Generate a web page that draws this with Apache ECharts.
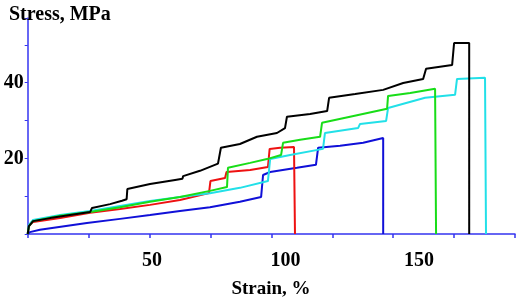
<!DOCTYPE html>
<html><head><meta charset="utf-8">
<script src="https://cdn.jsdelivr.net/npm/echarts@6/dist/echarts.min.js"></script>
<style>html,body{margin:0;padding:0;background:#fff}#c{width:525px;height:300px}</style>
</head><body><div id="c"></div>
<script>
// Strain (%) , Stress (MPa) pairs
const black = [[0,0],[0.5,2.1],[2.2,3.4],[9.2,4.2],[17.4,5.0],[25.6,5.8],[26.4,6.9],[33.8,7.9],[38.7,8.8],[40.6,9.2],[40.9,11.9],[50.2,13.2],[60.5,14.3],[63.5,14.6],[63.8,15.3],[70.7,16.7],[78.1,18.6],[78.5,19.0],[79.3,22.8],[87.1,23.8],[94.1,25.7],[102.3,26.7],[105.6,28.0],[106.0,28.2],[106.4,31.0],[115.9,31.7],[122.9,32.5],[123.3,32.6],[123.7,36.0],[134.4,37.0],[145.9,38.1],[154.1,39.9],[162.3,41.0],[162.8,41.3],[163.5,43.7],[174.2,44.7],[174.5,44.8],[175.0,50.5],[181.2,50.5],[181.2,0]];
const red = [[0,0],[0.5,2.1],[2.2,3.2],[13.3,4.2],[25.6,5.6],[37.9,6.6],[50.2,7.7],[62.5,9.0],[74.4,10.8],[75.0,14.0],[81.0,14.8],[81.6,16.4],[91.3,16.9],[98.6,17.7],[99.3,22.5],[103.6,22.8],[109.3,23.0],[109.7,0]];
const green = [[0,0],[0.5,2.1],[2.2,3.4],[13.3,4.8],[25.6,5.8],[37.9,7.1],[50.2,8.5],[62.5,9.8],[74.8,11.4],[81.8,12.4],[82.2,17.5],[91.3,18.8],[98.2,19.8],[104.0,20.9],[104.8,24.1],[111.8,24.9],[120.0,25.7],[120.8,29.4],[132.3,31.0],[147.5,33.1],[147.9,36.5],[157.0,37.3],[167.2,38.4],[167.6,0]];
const cyan = [[0,0],[0.5,2.4],[2.2,3.7],[13.3,5.0],[25.6,6.1],[37.9,7.4],[50.2,8.7],[62.5,9.8],[74.8,10.8],[87.1,12.2],[98.6,14.0],[99.1,14.3],[99.5,19.8],[107.7,20.9],[121.2,22.5],[122.0,26.7],[135.6,28.0],[136.4,29.1],[147.1,29.9],[147.9,33.3],[163.1,36.0],[175.4,36.8],[176.2,41.0],[187.7,41.3],[188.1,0]];
const blue = [[0,0],[0.9,0.5],[5.0,1.1],[24.3,2.9],[37.9,4.0],[50.2,5.0],[62.5,6.1],[74.8,7.1],[87.1,8.5],[95.8,9.8],[96.6,15.6],[99.5,16.4],[110.5,17.5],[118.3,18.3],[119.2,22.8],[128.2,23.3],[137.7,24.1],[145.9,25.4],[145.9,0]];
const xTickLabels = [50, 100, 150];
const yTickLabels = [20, 40];
const xTitle = 'Strain, %';
const yTitle = 'Stress, MPa';

const axisBlue = '#3535f0';
const font = {fontFamily: 'Liberation Serif', fontWeight: 'bold', color: '#000'};
const chart = echarts.init(document.getElementById('c'), null, {renderer: 'canvas'});
function line(data, color) {
  return {type: 'line', data, xAxisIndex: 0, yAxisIndex: 0, showSymbol: false, symbol: 'none',
    lineStyle: {color, width: 2}, animation: false, silent: true};
}
chart.setOption({
  animation: false,
  title: [
    {text: yTitle, left: 4, top: 0, textStyle: Object.assign({fontSize: 20}, font)},
    {text: xTitle, left: 266, top: 275, textAlign: 'center', textStyle: Object.assign({fontSize: 19}, font)}
  ],
  grid: {left: 27.7, right: 10, top: 18, bottom: 66, containLabel: false},
  xAxis: [
    {type: 'value', min: 0, max: 200, interval: 25, position: 'bottom',
      axisLine: {show: true, lineStyle: {color: axisBlue, width: 1.5}},
      axisTick: {show: true, inside: false, length: 4, lineStyle: {color: axisBlue, width: 1.5}},
      axisLabel: {show: false}, splitLine: {show: false}},
    {type: 'value', min: 3.45, max: 186, position: 'bottom',
      axisLine: {show: false}, axisTick: {show: false}, splitLine: {show: false},
      axisLabel: Object.assign({show: true, customValues: xTickLabels, margin: 17, fontSize: 20}, font)}
  ],
  yAxis: {type: 'value', min: 0, max: 57.1, interval: 10,
    axisLine: {show: true, lineStyle: {color: axisBlue, width: 1.5}},
    axisTick: {show: true, length: 3, lineStyle: {color: axisBlue, width: 1}},
    splitLine: {show: false},
    axisLabel: Object.assign({margin: 4, fontSize: 20,
      formatter: v => yTickLabels.includes(v) ? String(v) : ''}, font)},
  series: [
    line(blue, '#1010d8'),
    line(red, '#ee1111'),
    line(cyan, '#22e0e8'),
    line(green, '#18dd18'),
    line(black, '#000000')
  ]
});
</script></body></html>
